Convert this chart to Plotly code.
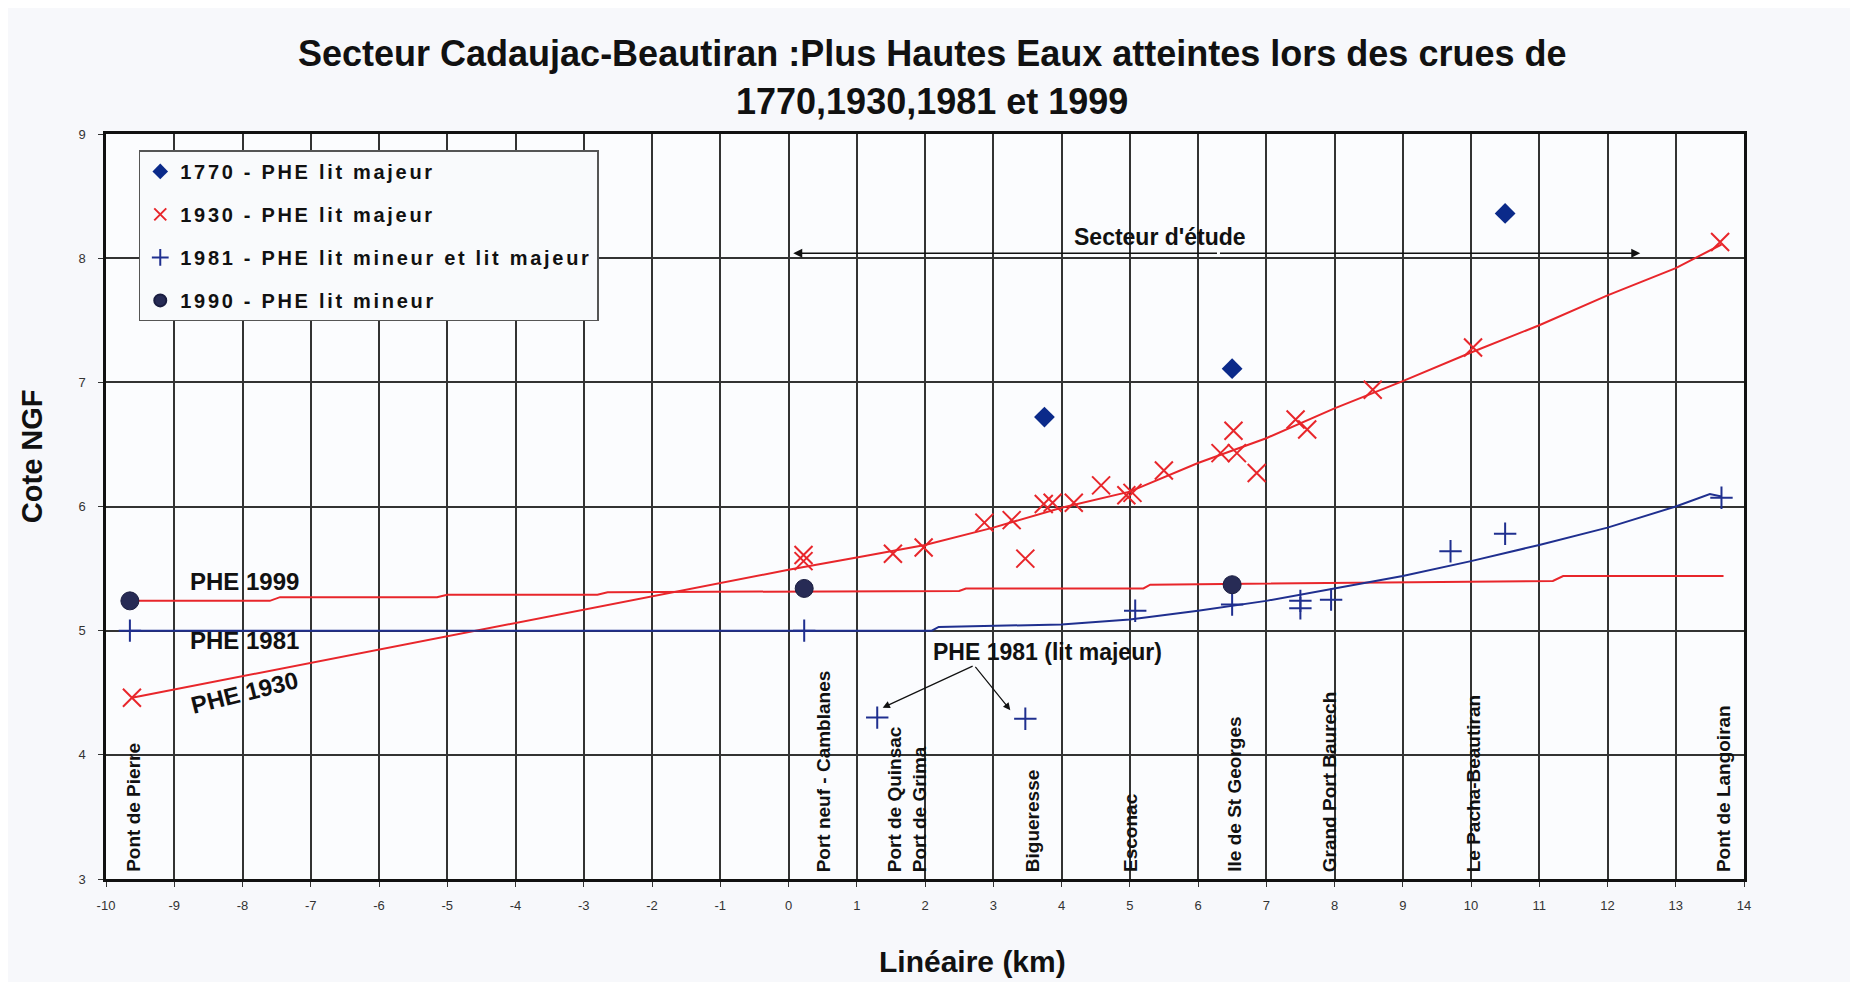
import plotly.graph_objects as go

# ---------------- data ----------------
# 1770 - PHE lit majeur (diamonds)
x1770 = [3.75, 6.50, 10.50]
y1770 = [6.72, 7.11, 8.36]

# 1930 - PHE lit majeur (crosses)
x1930 = [-9.62, 0.22, 0.22, 1.53, 1.98, 2.87, 3.27, 3.47, 3.74, 3.87, 4.18, 4.58,
         4.95, 5.04, 5.50, 6.33, 6.52, 6.57, 6.86, 7.43, 7.60, 8.56, 10.03, 13.65]
y1930 = [4.46, 5.56, 5.61, 5.62, 5.67, 5.87, 5.89, 5.58, 6.02, 6.03, 6.03, 6.17,
         6.09, 6.11, 6.29, 6.43, 6.61, 6.43, 6.27, 6.70, 6.62, 6.94, 7.28, 8.13]

# 1981 - PHE lit mineur et lit majeur (plus)
x1981 = [-9.65, 0.23, 1.30, 3.47, 5.08, 6.50, 7.50, 7.50, 7.95, 9.70, 10.50, 13.67]
y1981 = [5.00, 5.00, 4.30, 4.29, 5.16, 5.21, 5.24, 5.18, 5.25, 5.64, 5.78, 6.07]

# 1990 - PHE lit mineur (circles)
x1990 = [-9.65, 0.23, 6.50]
y1990 = [5.24, 5.34, 5.37]

# PHE 1930 line
line1930_x = [-9.62, 0.0, 1.0, 2.0, 3.0, 4.0, 5.0, 6.0, 7.0, 8.0, 9.0, 10.0, 11.0, 12.0, 13.0, 13.67]
line1930_y = [4.46, 5.49, 5.59, 5.69, 5.83, 5.99, 6.12, 6.35, 6.55, 6.79, 7.01, 7.24, 7.46, 7.70, 7.92, 8.11]

# PHE 1999 line
line1999_x = [-9.65, -7.6, -7.45, -5.15, -5.0, -2.8, -2.65, 2.5, 2.6, 5.2, 5.3, 11.2, 11.35, 13.7]
line1999_y = [5.24, 5.24, 5.27, 5.27, 5.29, 5.29, 5.31, 5.32, 5.34, 5.34, 5.37, 5.40, 5.44, 5.44]

# PHE 1981 line
line1981_x = [-9.65, 2.1, 2.2, 3.2, 4.0, 5.0, 6.0, 7.0, 8.0, 9.0, 10.0, 11.0, 12.0, 13.0, 13.5, 13.67]
line1981_y = [5.00, 5.00, 5.03, 5.04, 5.05, 5.09, 5.16, 5.24, 5.34, 5.44, 5.56, 5.69, 5.83, 6.00, 6.10, 6.08]

# Locations along the river
location_names = ["Pont de Pierre", "Port neuf - Camblanes", "Port de Quinsac<br>Port de Grima",
                  "Bigueresse", "Esconac", "Ile de St Georges", "Grand Port Baurech",
                  "Le Pacha-Beautiran", "Pont de Langoiran"]
location_km = [-9.6, 0.51, 1.74, 3.57, 5.01, 6.53, 7.93, 10.04, 13.7]

legend_names = ["1770 - PHE lit majeur", "1930 - PHE lit majeur",
                "1981 - PHE lit mineur et lit majeur", "1990 - PHE lit mineur"]

x_ticks = list(range(-10, 15))
y_ticks = list(range(3, 10))

# ---------------- style ----------------
RED = "#e8262b"
BLUE = "#1f2f8f"
NAVY = "#0b2a8a"
DARK = "#272b55"
FONT = "Liberation Sans"


def spaced(t):
    return "<b><span style='letter-spacing:2.7px'>" + t + "</span></b>"


fig = go.Figure()

fig.add_trace(go.Scatter(x=line1930_x, y=line1930_y, mode="lines",
                         line=dict(color=RED, width=2), showlegend=False, hoverinfo="skip"))
fig.add_trace(go.Scatter(x=line1999_x, y=line1999_y, mode="lines",
                         line=dict(color=RED, width=2), showlegend=False, hoverinfo="skip"))
fig.add_trace(go.Scatter(x=line1981_x, y=line1981_y, mode="lines",
                         line=dict(color=BLUE, width=2), showlegend=False, hoverinfo="skip"))

fig.add_trace(go.Scatter(x=x1770, y=y1770, mode="markers", name=spaced(legend_names[0]),
                         legendgroup="a",
                         marker=dict(symbol="diamond", size=16, color=NAVY)))
fig.add_trace(go.Scatter(x=x1930, y=y1930, mode="markers", name=spaced(legend_names[1]),
                         legendgroup="b",
                         marker=dict(symbol="x-thin", size=18, color=RED,
                                     line=dict(color=RED, width=2))))
fig.add_trace(go.Scatter(x=x1981, y=y1981, mode="markers",
                         name=spaced(legend_names[2]), legendgroup="c",
                         marker=dict(symbol="cross-thin", size=16, color=BLUE,
                                     line=dict(color=BLUE, width=2))))
fig.add_trace(go.Scatter(x=x1990, y=y1990, mode="markers", name=spaced(legend_names[3]),
                         legendgroup="d",
                         marker=dict(symbol="circle", size=18, color=DARK,
                                     line=dict(color="#1a1d40", width=1))))

annotations = []
# titles
annotations.append(dict(text="<b>Secteur Cadaujac-Beautiran :Plus Hautes Eaux atteintes lors des crues de</b>",
                        xref="paper", yref="paper", x=0.504, y=1.108, yanchor="middle",
                        showarrow=False, font=dict(size=36, color="#111", family=FONT)))
annotations.append(dict(text="<b>1770,1930,1981 et 1999</b>",
                        xref="paper", yref="paper", x=0.504, y=1.044, yanchor="middle",
                        showarrow=False, font=dict(size=36, color="#111", family=FONT)))
annotations.append(dict(text="<b>Cote NGF</b>", xref="paper", yref="paper", x=-0.045, y=0.568,
                        xanchor="center", yanchor="middle", textangle=-90, showarrow=False,
                        font=dict(size=29, color="#111", family=FONT)))
annotations.append(dict(text="<b>Linéaire (km)</b>", xref="paper", yref="paper", x=0.529, y=-0.111,
                        yanchor="middle", showarrow=False,
                        font=dict(size=30, color="#111", family=FONT)))

# series labels
annotations.append(dict(text="<b>PHE 1999</b>", x=-7.97, y=5.40, showarrow=False,
                        font=dict(size=24, color="#111", family=FONT)))
annotations.append(dict(text="<b>PHE 1981</b>", x=-7.97, y=4.92, showarrow=False,
                        font=dict(size=24, color="#111", family=FONT)))
annotations.append(dict(text="<b>PHE 1930</b>", x=-7.97, y=4.50, showarrow=False, textangle=-14,
                        font=dict(size=24, color="#111", family=FONT)))

# Secteur d'étude
annotations.append(dict(text="<b>Secteur d'étude</b>", x=5.45, y=8.17, showarrow=False,
                        font=dict(size=23, color="#111", family=FONT)))
for xe in [0.07, 12.48]:
    annotations.append(dict(text="", x=xe, y=8.04, ax=6.3, ay=8.04, axref="x", ayref="y",
                            showarrow=True, arrowhead=2, arrowsize=1.2, arrowwidth=1.5,
                            arrowcolor="#111"))

# PHE 1981 (lit majeur)
annotations.append(dict(text="<b>PHE 1981 (lit majeur)</b>", x=3.8, y=4.83, showarrow=False,
                        font=dict(size=23, color="#111", family=FONT)))
for xe, ye in [(1.38, 4.38), (3.25, 4.36)]:
    annotations.append(dict(text="", x=xe, y=ye, ax=2.72, ay=4.72, axref="x", ayref="y",
                            showarrow=True, arrowhead=2, arrowsize=1.2, arrowwidth=1.2,
                            arrowcolor="#111"))

# location labels
for name, km in zip(location_names, location_km):
    annotations.append(dict(text="<b>" + name + "</b>", x=km, y=3.04, textangle=-90,
                            xanchor="center", yanchor="bottom", align="left", showarrow=False,
                            font=dict(size=19, color="#111", family=FONT)))

fig.update_layout(
    width=1858, height=982,
    margin=dict(l=98, r=122, t=126, b=111),
    paper_bgcolor="#f7f8fb",
    plot_bgcolor="#fbfcfe",
    font=dict(family=FONT, color="#222"),
    annotations=annotations,
    showlegend=True,
    legend=dict(x=0.02, y=0.978, xanchor="left", yanchor="top",
                bgcolor="#f9fafc", bordercolor="#555", borderwidth=1.5,
                font=dict(size=20, color="#111", family=FONT, weight="bold"),
                tracegroupgap=14, itemsizing="constant"),
    xaxis=dict(range=[-10, 14], tickvals=x_ticks, ticktext=[str(v) for v in x_ticks],
               showgrid=True, gridcolor="#333", gridwidth=1.5, zeroline=False,
               showline=True, linecolor="#111", linewidth=2.5, mirror=True,
               ticks="outside", ticklen=5, tickcolor="#333",
               tickfont=dict(size=13, color="#333"), ticklabelstandoff=8),
    yaxis=dict(range=[3, 9], tickvals=y_ticks, ticktext=[str(v) for v in y_ticks],
               showgrid=True, gridcolor="#333", gridwidth=1.5, zeroline=False,
               showline=True, linecolor="#111", linewidth=2.5, mirror=True,
               ticks="outside", ticklen=5, tickcolor="#333",
               tickfont=dict(size=13, color="#333"), ticklabelstandoff=10),
)

fig.write_html("out.html")
